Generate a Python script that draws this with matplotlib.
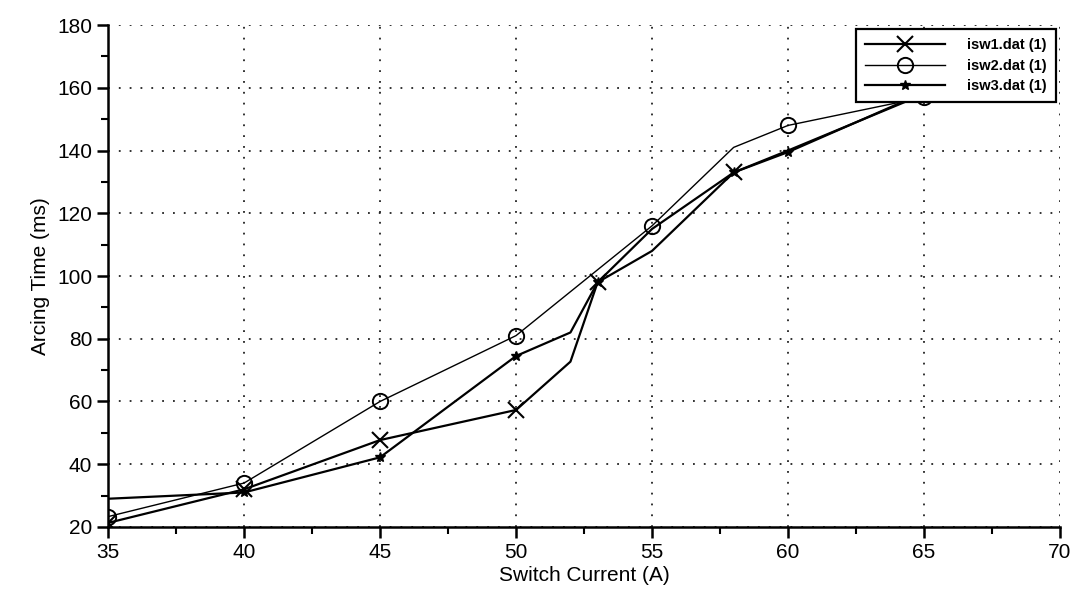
import matplotlib
matplotlib.use("Agg")
import matplotlib.pyplot as plt
from matplotlib.ticker import MultipleLocator

plt.rcParams['font.family'] = ['Liberation Sans', 'DejaVu Sans']

# data
isw1_x = [35, 40, 45, 50, 52, 53, 55, 58, 60, 65]
isw1_y = [21.3, 32, 47.7, 57.3, 72.7, 98, 115, 133, 140, 158]
isw1_marks = [0, 1, 2, 3, 5, 7]

isw2_x = [35, 40, 45, 50, 53, 55, 58, 60, 65]
isw2_y = [23.3, 34, 60, 81, 102, 116, 141, 148, 157]
isw2_marks = [0, 1, 2, 3, 5, 7, 8]

isw3_x = [35, 40, 45, 50, 52, 53, 55, 58, 60, 65]
isw3_y = [29, 31, 42.2, 74.5, 82, 98, 108, 133, 139.5, 158.5]
isw3_marks = [1, 2, 3, 5, 7, 8]

labels = ["isw1.dat (1)", "isw2.dat (1)", "isw3.dat (1)"]
x_label = "Switch Current (A)"
y_label = "Arcing Time (ms)"

fig = plt.figure(figsize=(10.75, 6.06), dpi=100)
ax = fig.add_axes([0.1005, 0.1304, 0.8856, 0.8283])

ax.plot(isw1_x, isw1_y, color='black', lw=1.6, marker='x', ms=11, mew=1.5,
        markevery=isw1_marks, label=labels[0])
ax.plot(isw2_x, isw2_y, color='black', lw=1.0, marker='o', ms=11, mew=1.4,
        mfc='none', markevery=isw2_marks, label=labels[1])
ax.plot(isw3_x, isw3_y, color='black', lw=1.6, marker='*', ms=7, mew=1.0,
        markevery=isw3_marks, label=labels[2])

ax.set_xlim(35, 70)
ax.set_ylim(20, 180)
ax.xaxis.set_major_locator(MultipleLocator(5))
ax.xaxis.set_minor_locator(MultipleLocator(2.5))
ax.yaxis.set_major_locator(MultipleLocator(20))
ax.yaxis.set_minor_locator(MultipleLocator(10))

ax.grid(True, which='major', color='#222222', linestyle=(0, (1, 5)), linewidth=1.3)
for s in ['top', 'right']:
    ax.spines[s].set_visible(False)
for s in ['left', 'bottom']:
    ax.spines[s].set_linewidth(1.8)

ax.tick_params(which='major', direction='out', length=8, width=1.8, labelsize=15)
ax.tick_params(which='minor', direction='out', length=5, width=1.5)

ax.set_xlabel(x_label, fontsize=15, labelpad=3)
ax.set_ylabel(y_label, fontsize=15, labelpad=5)

leg = ax.legend(loc='upper right', bbox_to_anchor=(1.003, 1.006), fancybox=False,
                edgecolor='black', framealpha=1, handlelength=5.5,
                borderpad=0.6, labelspacing=0.45, handletextpad=1.5,
                prop={'weight': 'bold', 'size': 10.5})
leg.get_frame().set_linewidth(1.6)

fig.savefig("out.png", dpi=100)
